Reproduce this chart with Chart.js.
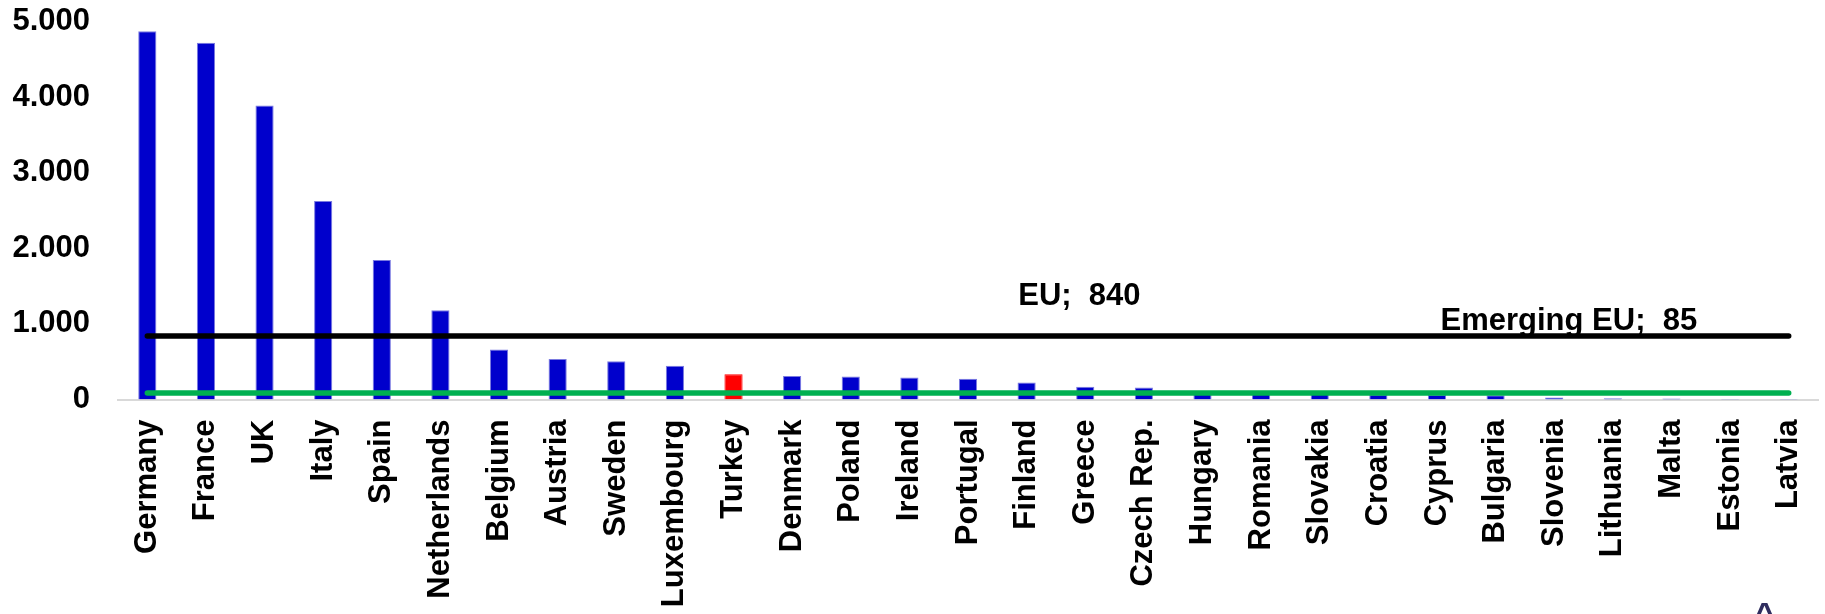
<!DOCTYPE html>
<html>
<head>
<meta charset="utf-8">
<title>EU</title>
<script src="https://cdn.jsdelivr.net/npm/chart.js@4/dist/chart.umd.min.js"></script>
<style>
  html, body { margin: 0; padding: 0; background: #fff; overflow: hidden; }
  #wrap { position: relative; width: 1825px; height: 614px; overflow: hidden; }
  #up {
    position: absolute; left: 1754px; top: 598px;
    font: bold 36px "Liberation Sans", Arial, sans-serif; line-height: 1;
    color: #2f2d5f;
  }
</style>
</head>
<body>
<div id="wrap">
  <canvas id="chart" width="1825" height="614"></canvas>
  <span id="up">^</span>
</div>
<script>
const countries = ['Germany', 'France', 'UK', 'Italy', 'Spain', 'Netherlands', 'Belgium', 'Austria',
  'Sweden', 'Luxembourg', 'Turkey', 'Denmark', 'Poland', 'Ireland', 'Portugal', 'Finland', 'Greece',
  'Czech Rep.', 'Hungary', 'Romania', 'Slovakia', 'Croatia', 'Cyprus', 'Bulgaria', 'Slovenia',
  'Lithuania', 'Malta', 'Estonia', 'Latvia'];
const values = [4870, 4720, 3890, 2625, 1845, 1180, 660, 535, 505, 445, 335, 310, 305, 290, 275, 225,
  170, 160, 95, 85, 80, 65, 60, 55, 25, 15, 12, 6, 5];
const yTicks = [0, 1000, 2000, 3000, 4000, 5000];
const highlight = 'Turkey';
const euAverage = 840;
const emergingAverage = 85;

const FONT = { family: '"Liberation Sans", Arial, sans-serif', size: 31, weight: 'bold' };

// "EU;  840" style labels above the two average lines
const lineLabels = {
  id: 'lineLabels',
  afterDatasetsDraw(chart) {
    const { ctx, scales: { x, y } } = chart;
    const items = [
      { text: 'EU;  ' + euAverage, at: 15.9, value: euAverage, lift: 31 },
      { text: 'Emerging EU;  ' + emergingAverage, at: 24.25, value: emergingAverage, lift: 63.5 }
    ];
    ctx.save();
    ctx.font = 'bold 31px "Liberation Sans", Arial, sans-serif';
    ctx.fillStyle = '#000';
    ctx.textAlign = 'center';
    ctx.textBaseline = 'alphabetic';
    items.forEach(it => {
      ctx.fillText(it.text, x.getPixelForValue(it.at), y.getPixelForValue(it.value) - it.lift);
    });
    ctx.restore();
  }
};

const first = countries[0];
const last = countries[countries.length - 1];

new Chart(document.getElementById('chart'), {
  type: 'bar',
  data: {
    labels: countries,
    datasets: [
      {
        type: 'line',
        label: 'Emerging EU',
        data: [{ x: first, y: emergingAverage }, { x: last, y: emergingAverage }],
        borderColor: '#00b050',
        borderWidth: 5.5,
        borderCapStyle: 'round',
        pointRadius: 0,
        order: 0
      },
      {
        type: 'line',
        label: 'EU',
        data: [{ x: first, y: euAverage }, { x: last, y: euAverage }],
        borderColor: '#000000',
        borderWidth: 5.5,
        borderCapStyle: 'round',
        pointRadius: 0,
        order: 1
      },
      {
        label: 'Countries',
        data: values,
        backgroundColor: countries.map(c => c === highlight ? '#ff0000' : '#0000cc'),
        borderColor: countries.map(c => c === highlight ? '#ff0000' : '#7a7ae0'),
        borderWidth: { left: 1, right: 1, top: 1, bottom: 0 },
        borderSkipped: false,
        barPercentage: 0.31,
        categoryPercentage: 1.0,
        order: 2
      }
    ]
  },
  options: {
    responsive: false,
    animation: false,
    devicePixelRatio: 1,
    layout: { padding: { left: 12, right: 7, top: 21.5, bottom: 0 } },
    plugins: {
      legend: { display: false },
      tooltip: { enabled: false }
    },
    scales: {
      x: {
        grid: { display: false, drawTicks: false },
        border: { display: true, color: '#d9d9d9', width: 2 },
        ticks: {
          autoSkip: false,
          minRotation: 90,
          maxRotation: 90,
          padding: 20,
          color: '#000',
          font: FONT
        },
        afterFit(scale) {
          scale.height = 214.5;
          scale.paddingLeft = 0;
          scale.paddingRight = 0;
        }
      },
      y: {
        min: 0,
        max: 5000,
        afterBuildTicks(scale) {
          scale.ticks = yTicks.map(v => ({ value: v }));
        },
        grid: { display: false, drawTicks: false },
        border: { display: false },
        ticks: {
          padding: 28,
          color: '#000',
          font: FONT,
          callback: v => v.toLocaleString('de-DE')
        },
        afterFit(scale) {
          scale.width = 106;
          scale.paddingTop = 0;
          scale.paddingBottom = 0;
        }
      }
    }
  },
  plugins: [lineLabels]
});
</script>
</body>
</html>
